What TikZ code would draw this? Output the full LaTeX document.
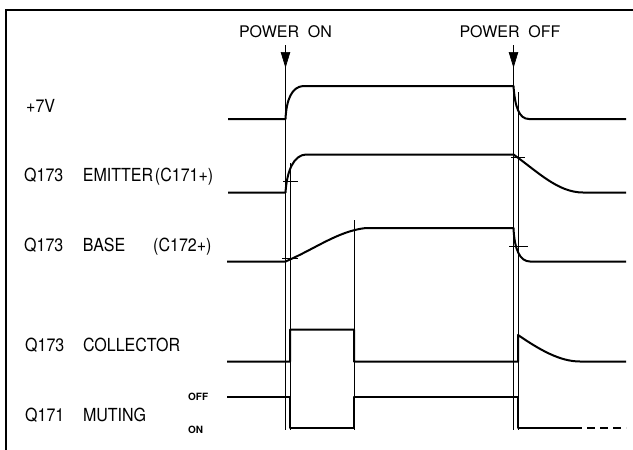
\documentclass[tikz,border=0pt]{standalone}
\usepackage{fontspec}
\setmainfont{TeX Gyre Heros}
\usetikzlibrary{arrows.meta}
\newcommand{\qcol}[2]{\makebox[#1pt][l]{#2}}

\begin{document}
\begin{tikzpicture}[x=1pt, y=-1pt,
                sig/.style={line width=2pt, line join=round},
                guide/.style={line width=0.7pt},
                arr/.style={line width=0.7pt, -{Triangle[length=16pt,width=9.5pt]}},
                lbl/.style={anchor=base west, inner sep=0pt, xscale=0.89, transform shape, font=\fontsize{18}{20}\selectfont},
                pwr/.style={anchor=base, inner sep=0pt, font=\fontsize{16}{18}\selectfont},
                lvl/.style={anchor=base west, inner sep=0pt, font=\fontsize{10}{12}\selectfont\bfseries}]
                \useasboundingbox (0,0) rectangle (633,450);
                \draw[line width=1.2pt] (6,450) -- (6,10) -- (633,10);
                \node[pwr] (pon) at (285.5,37) {POWER~~ON};
                \node[pwr] (poff) at (510,37) {POWER~~OFF};
                \node[lbl] (v7) at (26,112) {+7V};
                \node[lbl] (emit) at (24,181.5) {\qcol{66}{Q173}\qcol{81}{EMITTER}(C171+)};
                \node[lbl] (base) at (24,251.5) {\qcol{66}{Q173}\qcol{79}{BASE}(C172+)};
                \node[lbl] (coll) at (25,351.5) {\qcol{65}{Q173}COLLECTOR};
                \node[lbl] (mute) at (25,421.5) {\qcol{65}{Q171}MUTING};
                \node[lvl] (moff) at (188,400) {OFF};
                \node[lvl] (mon) at (188,433) {ON};
                \coordinate (on) at (285.5,45);
                \coordinate (on2) at (290,163);
                \coordinate (chg) at (354,220);
                \coordinate (off) at (513.5,45);
                \coordinate (off2) at (518,92);
                \coordinate (bot) at (0,430);
                \foreach \c in {on,on2,chg,off,off2}
                    \draw[guide] (\c) -- (\c |- bot);
                \draw[arr] (on) -- ++(0,23);
                \draw[arr] (off) -- ++(0,23);
                \draw[guide] (283,181) -- (298,181);
                \draw[guide] (282,258) -- (298,258);
                \draw[guide] (511,157.5) -- (525,157.5);
                \draw[guide] (509,246) -- (528,246);
                \draw[sig] (228,119) -- (285.5,119) .. controls (286.5,99) and (292,87) .. (303,86) -- (513.5,86) .. controls (515,107) and (519,119) .. (529,119) -- (626,119);
                \draw[sig] (228,192.5) -- (285.5,192.5) .. controls (287,170) and (294,155) .. (306,154.5) -- (513.5,154.5) .. controls (538,172) and (558,192.5) .. (583,192.5) -- (626,192.5);
                \draw[sig] (227,261.5) -- (285.5,261.5) .. controls (315,249) and (338,231) .. (366,228) -- (513.5,228) .. controls (514.5,250) and (520,261.5) .. (530,261.5) -- (626,261.5);
                \draw[sig] (227,361.5) -| (290,329.5) -| (354,361.5) -| (518,335) .. controls (540,350) and (560,361.5) .. (580,361.5) -- (626,361.5);
                \draw[sig] (227,396.5) -| (290,427.5) -| (354,396.5) -| (518,427.5) -- (582,427.5);
                \draw[sig, dash pattern=on 8pt off 5pt] (587,427.5) -- (626,427.5);
            \end{tikzpicture}
\end{document}
